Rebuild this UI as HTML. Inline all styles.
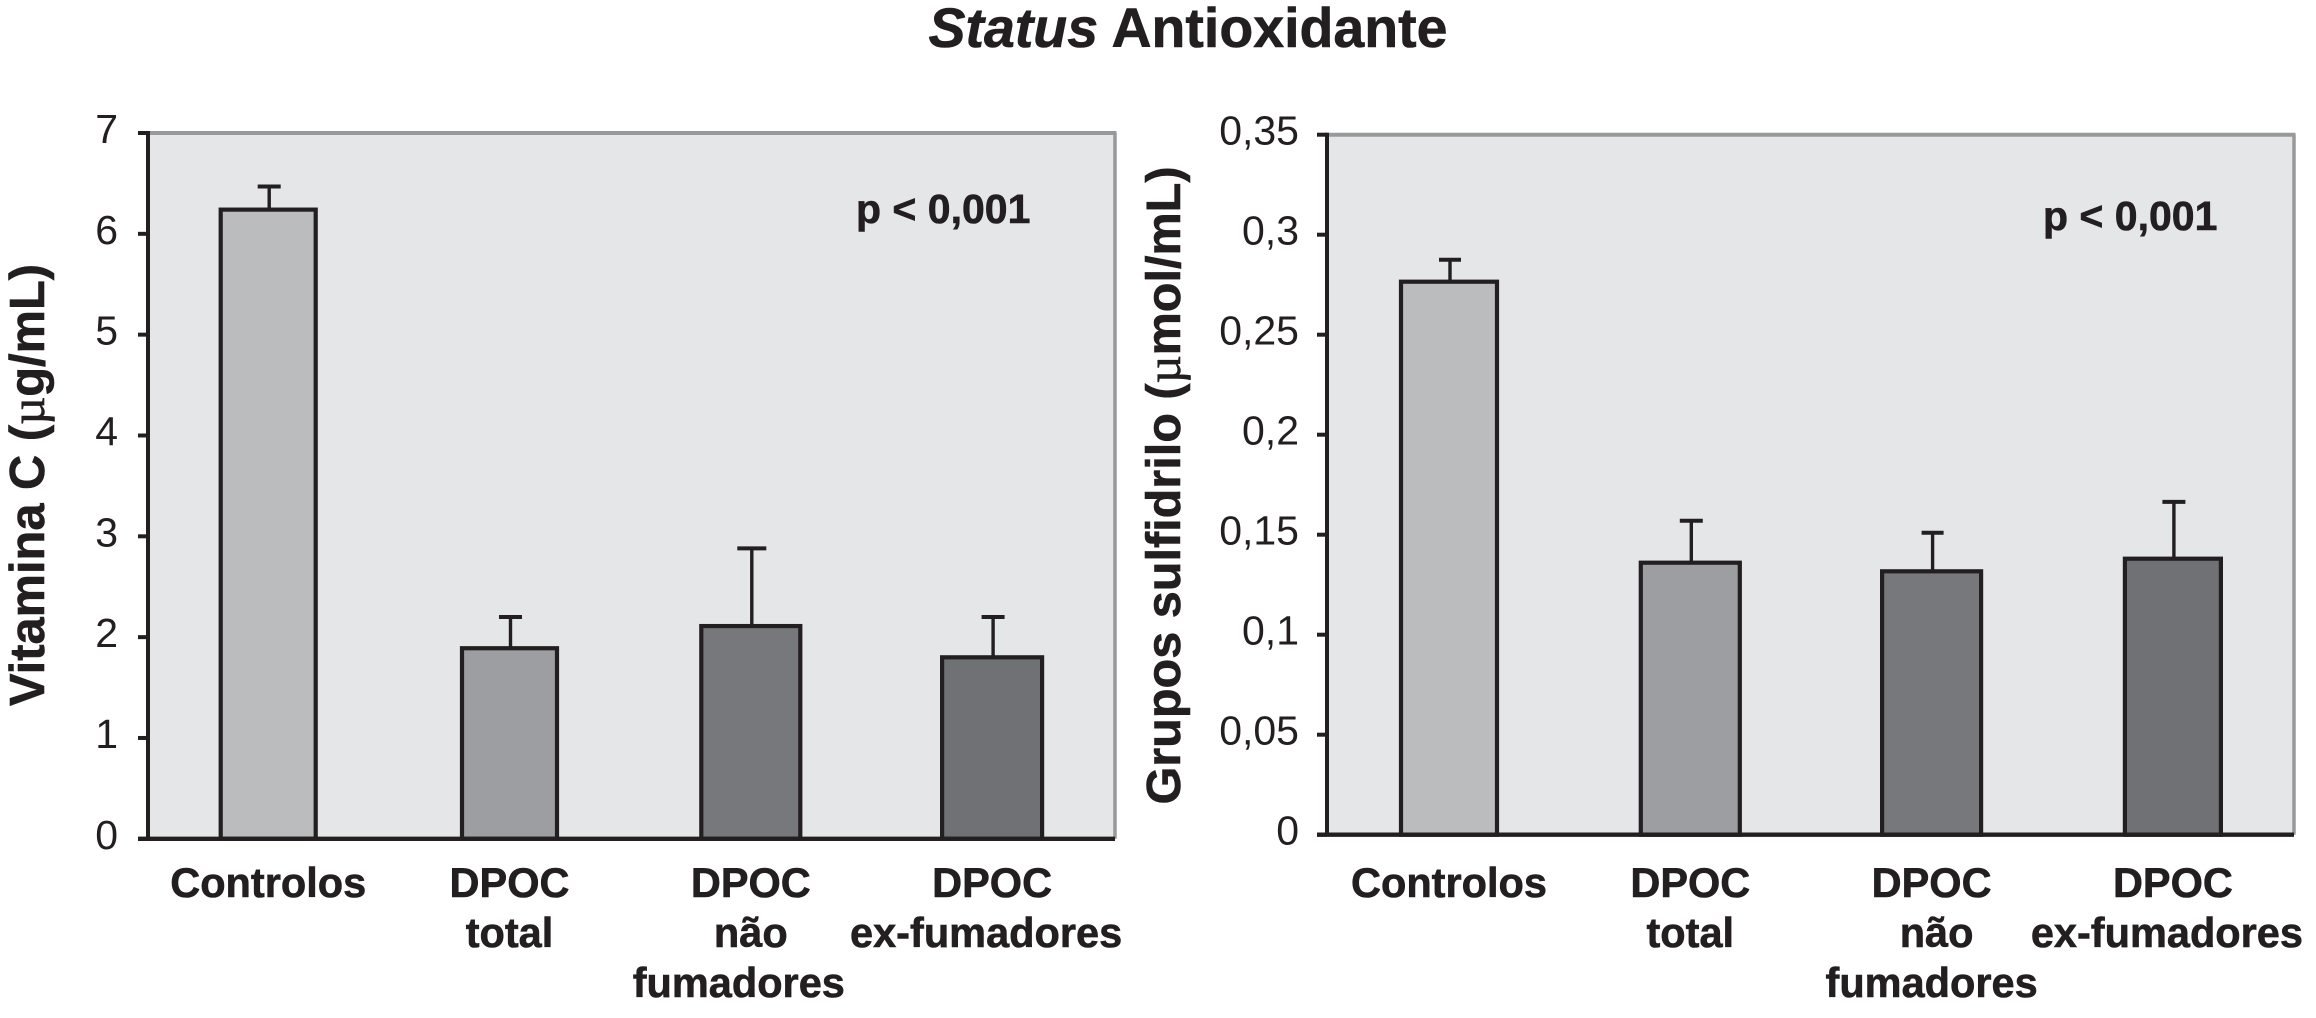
<!DOCTYPE html>
<html lang="pt">
<head>
<meta charset="utf-8">
<title>Status Antioxidante</title>
<style>
  html, body { margin: 0; padding: 0; background: #ffffff; }
  body { width: 2316px; height: 1018px; overflow: hidden; }
  svg { display: block; }
  text { font-family: "Liberation Sans", Arial, sans-serif; fill: #231f20; }
  text.heavy { stroke: #231f20; stroke-width: 0.6px; }
</style>
</head>
<body>
<svg id="figure" xmlns="http://www.w3.org/2000/svg" width="2316" height="1018" viewBox="0 0 2316 1018">
  <text class="heavy" x="1188" y="47" text-anchor="middle" font-size="55.5" font-weight="700"><tspan font-style="italic">Status</tspan> Antioxidante</text>
  <g id="chart-left"></g>
  <g id="chart-right"></g>
  <text class="heavy" transform="translate(44 485) rotate(-90)" text-anchor="middle" font-size="48.8" font-weight="700">Vitamina C (<tspan font-family="'Liberation Serif', serif" font-weight="400">µ</tspan>g/mL)</text>
  <text class="heavy" transform="translate(1180 485.5) rotate(-90)" text-anchor="middle" font-size="48.6" font-weight="700">Grupos sulfidrilo (<tspan font-family="'Liberation Serif', serif" font-weight="400">µ</tspan>mol/mL)</text>
  <text class="heavy" x="856" y="223" font-size="41" font-weight="700">p &lt; 0,001</text>
  <text class="heavy" x="2043" y="230" font-size="41" font-weight="700">p &lt; 0,001</text>
</svg>
<script>
const categories = ["Controlos", "DPOC total", "DPOC não fumadores", "DPOC ex-fumadores"];
const categoryLines = [["Controlos"], ["DPOC", "total"], ["DPOC", "não", "fumadores"], ["DPOC", "ex-fumadores"]];

const vitaminValues = [6.24, 1.89, 2.11, 1.80];
const vitaminErrorTops = [6.47, 2.20, 2.88, 2.20];
const vitaminTicks = [0, 1, 2, 3, 4, 5, 6, 7];
const vitaminTickLabels = ["0", "1", "2", "3", "4", "5", "6", "7"];

const sulfhydrylValues = [0.2765, 0.136, 0.1317, 0.138];
const sulfhydrylErrorTops = [0.2875, 0.157, 0.151, 0.1664];
const sulfhydrylTicks = [0, 0.05, 0.1, 0.15, 0.2, 0.25, 0.3, 0.35];
const sulfhydrylTickLabels = ["0", "0,05", "0,1", "0,15", "0,2", "0,25", "0,3", "0,35"];

const barFills = ["#bbbcbe", "#9d9ea1", "#77787b", "#707174"];
const INK = "#231f20";
const NS = "http://www.w3.org/2000/svg";

function mk(parent, tag, attrs, text) {
  const el = document.createElementNS(NS, tag);
  for (const k in attrs) el.setAttribute(k, attrs[k]);
  if (text !== undefined) el.textContent = text;
  parent.appendChild(el);
  return el;
}

function drawChart(root, cfg) {
  const yScale = v => cfg.bottom - (v / cfg.yMax) * (cfg.bottom - cfg.top);
  const xScale = i => cfg.firstCenter + i * cfg.step;

  const plot = mk(root, "rect", { x: cfg.left, y: cfg.top, width: cfg.right - cfg.left, height: cfg.bottom - cfg.top, fill: "#e5e6e8" });
  
  

  const topBorder = mk(root, "line", { x1: cfg.left, x2: cfg.right + 1.5, y1: cfg.top, y2: cfg.top, stroke: "#98999b", "stroke-width": 4 });
  
  

  const rightBorder = mk(root, "line", { x1: cfg.right, x2: cfg.right, y1: cfg.top, y2: cfg.bottom, stroke: "#98999b", "stroke-width": 3.5 });
  
  

  cfg.values.forEach((v, i) => {
    const cx = xScale(i);
    const w = cfg.barWidths[i];
    const stem = mk(root, "line", { x1: cx + 1, x2: cx + 1, y1: yScale(cfg.errorTops[i]), y2: yScale(v), stroke: INK, "stroke-width": 3.4 });
    
    

    const cap = mk(root, "line", { x1: cx + 1 - cfg.capWidths[i] / 2, x2: cx + 1 + cfg.capWidths[i] / 2, y1: yScale(cfg.errorTops[i]), y2: yScale(cfg.errorTops[i]), stroke: INK, "stroke-width": 4 });
    
    

    const bar = mk(root, "rect", { x: cx - w / 2, y: yScale(v), width: w, height: yScale(0) - yScale(v), fill: barFills[i], stroke: INK, "stroke-width": 4.2 });
    
    

    categoryLines[i].forEach((line, j) => {
      const label = mk(root, "text", { x: cx + cfg.labelOffsets[i][j], y: 897 + j * 50, "text-anchor": "middle", "font-size": 41.5, "font-weight": 700, class: "heavy" }, line);
      
      
    });
  });

  const yAxis = mk(root, "line", { x1: cfg.left, x2: cfg.left, y1: cfg.top - 2, y2: cfg.bottom, stroke: INK, "stroke-width": 4 });
  
  

  const xAxis = mk(root, "line", { x1: cfg.left - 10, x2: cfg.right, y1: cfg.bottom, y2: cfg.bottom, stroke: INK, "stroke-width": 4.4 });
  
  

  cfg.ticks.forEach((t, i) => {
    const tick = mk(root, "line", { x1: cfg.left - 10, x2: cfg.left, y1: yScale(t), y2: yScale(t), stroke: INK, "stroke-width": 4 });
    
    

    const tickLabel = mk(root, "text", { x: cfg.tickLabelX, y: yScale(t) + 10, "text-anchor": "end", "font-size": 41 }, cfg.tickLabels[i]);
    
    
  });
}

drawChart(document.getElementById("chart-left"), {
  left: 148, right: 1115, top: 133, bottom: 838.8, yMax: 7,
  firstCenter: 268.2, step: 241.3, tickLabelX: 118,
  values: vitaminValues, errorTops: vitaminErrorTops,
  ticks: vitaminTicks, tickLabels: vitaminTickLabels,
  barWidths: [95, 95, 99, 100], capWidths: [23, 23, 29, 23],
  labelOffsets: [[0], [0, 0], [0, 0, -12], [0, -6]]
});

drawChart(document.getElementById("chart-right"), {
  left: 1327, right: 2294, top: 134.7, bottom: 834.7, yMax: 0.35,
  firstCenter: 1449, step: 241.3, tickLabelX: 1299,
  values: sulfhydrylValues, errorTops: sulfhydrylErrorTops,
  ticks: sulfhydrylTicks, tickLabels: sulfhydrylTickLabels,
  barWidths: [96, 99, 99, 96], capWidths: [22, 23, 22, 23],
  labelOffsets: [[0], [0, 0], [0, 5, 0], [0, -6]]
});
</script>
</body>
</html>
